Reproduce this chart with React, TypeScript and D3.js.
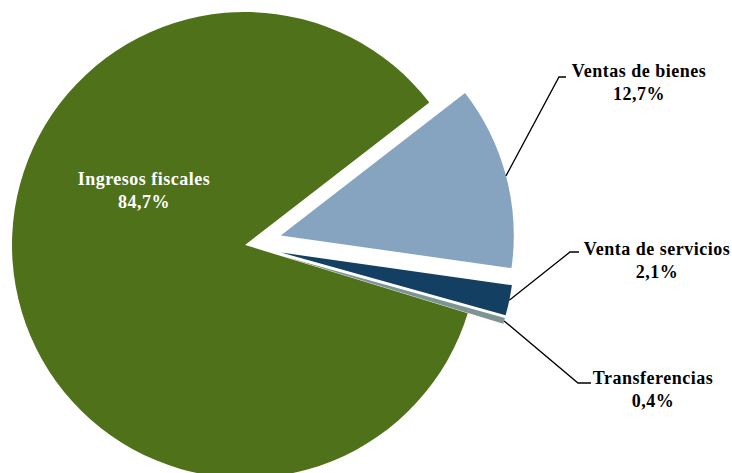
import React from "react";
import * as d3 from "d3";

const categories = ["Ingresos fiscales", "Ventas de bienes", "Venta de servicios", "Transferencias"];
const values = [84.7, 12.7, 2.1, 0.4];
const valueLabels = ["84,7%", "12,7%", "2,1%", "0,4%"];
const colors = ["#4E711A", "#86A4C0", "#133F62", "#7D9494"];
const explode = [0, 37, 37, 37];

const W = 732;
const H = 473;
const CX = 245;
const CY = 245;
const R = 233;

// label layout: [elbowX, elbowY, endX, textCenterX, line1Baseline]
const labelLayout: ([number, number, number, number, number] | null)[] = [
  null,
  [559, 77, 566, 639, 77],
  [570, 252, 579, 657, 255],
  [578, 383, 591, 653, 384],
];

export default function App() {
  const pie = d3
    .pie<number>()
    .sort(null)
    .value((d) => d)
    .startAngle((107.05 * Math.PI) / 180)
    .endAngle((107.05 * Math.PI) / 180 + 2 * Math.PI);
  const arcs = pie(values);
  const arc = d3.arc<d3.PieArcDatum<number>>().innerRadius(0).outerRadius(R);
  const font = "'Liberation Serif', 'Times New Roman', serif";
  const ls = 0.5;

  return (
    <svg
      width={W}
      height={H}
      style={{ position: "absolute", left: 0, top: 0, display: "block" }}
    >
      <rect width={W} height={H} fill="#fff" />
      {arcs.map((a, i) => {
        const mid = (a.startAngle + a.endAngle) / 2;
        const ox = Math.sin(mid) * explode[i];
        const oy = -Math.cos(mid) * explode[i];
        return (
          <path
            key={i}
            d={arc(a) || ""}
            fill={colors[i]}
            transform={`translate(${CX + ox},${CY + oy})`}
          />
        );
      })}
      {arcs.map((a, i) => {
        const lay = labelLayout[i];
        if (!lay) return null;
        const mid = (a.startAngle + a.endAngle) / 2;
        const sx = CX + Math.sin(mid) * (explode[i] + R);
        const sy = CY - Math.cos(mid) * (explode[i] + R);
        const [ex, ey, hx, tx, ty] = lay;
        return (
          <g key={"l" + i}>
            <polyline
              points={`${sx},${sy} ${ex},${ey} ${hx},${ey}`}
              fill="none"
              stroke="#000"
              strokeWidth={1.3}
            />
            <text
              x={tx}
              y={ty}
              textAnchor="middle"
              fontFamily={font}
              fontWeight="bold"
              fontSize={18}
              letterSpacing={ls}
              fill="#000"
            >
              {categories[i]}
            </text>
            <text
              x={tx}
              y={ty + 23}
              textAnchor="middle"
              fontFamily={font}
              fontWeight="bold"
              fontSize={18}
              letterSpacing={ls}
              fill="#000"
            >
              {valueLabels[i]}
            </text>
          </g>
        );
      })}
      <text
        x={144}
        y={185}
        textAnchor="middle"
        fontFamily={font}
        fontWeight="bold"
        fontSize={18}
        letterSpacing={ls}
        fill="#fff"
      >
        {categories[0]}
      </text>
      <text
        x={144}
        y={208}
        textAnchor="middle"
        fontFamily={font}
        fontWeight="bold"
        fontSize={18}
        letterSpacing={ls}
        fill="#fff"
      >
        {valueLabels[0]}
      </text>
    </svg>
  );
}
